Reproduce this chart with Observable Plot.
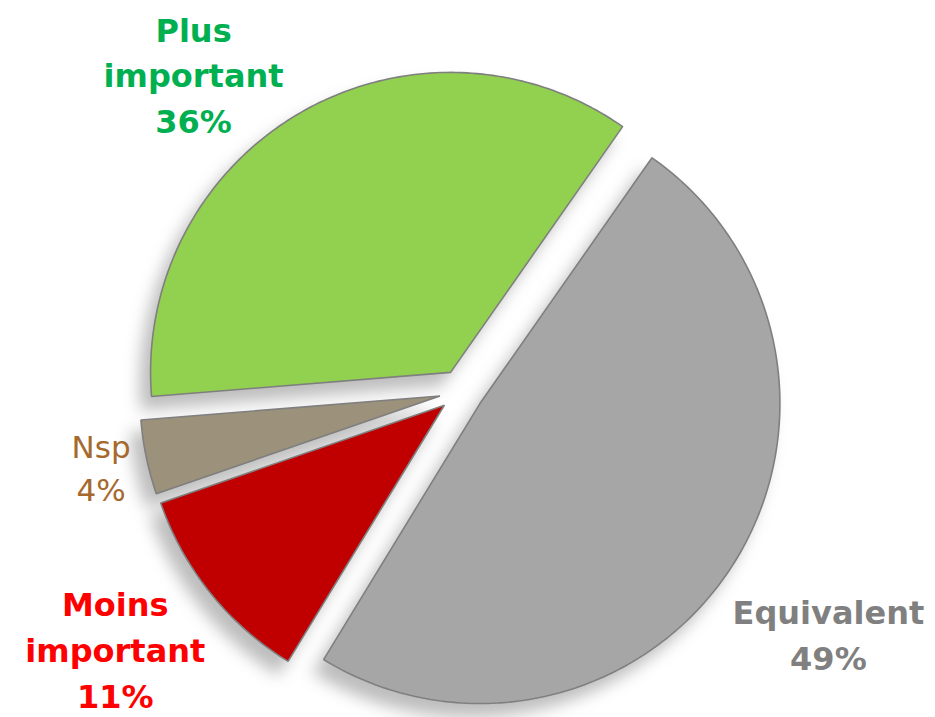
<!DOCTYPE html>
<html>
<head>
<meta charset="utf-8">
<script src="https://cdn.jsdelivr.net/npm/d3@7"></script>
<script src="https://cdn.jsdelivr.net/npm/@observablehq/plot@0.6"></script>
<style>
  html, body { margin: 0; padding: 0; background: #fff; }
  #chart svg { display: block; }
</style>
</head>
<body>
<div id="chart"></div>
<script>
// ---- data ----
const categories = ["Equivalent", "Moins important", "Nsp", "Plus important"];
const values = [49, 11, 4, 36];
const sliceColors = ["#A6A6A6", "#C00000", "#9C917A", "#92D050"];
const textColors = ["#808080", "#FF0000", "#A5692D", "#00B050"];
const boldLabel = [true, true, false, true];

// ---- layout (unit circle = radius 1) ----
const W = 935, H = 717;
const R = 300;                 // pixel radius
const cx = 461, cy = 391;      // pie centre in pixels
const explode = 22 / R;        // explosion distance
const startDeg = 35;
// label placement: radius (in radii) and angular shift relative to bisector
const labelRadius = [1.47, 1.443, 1.23, 1.378];
const labelShift = [0.5, 1.9, -0.6, -10.6];

const rad = Math.PI / 180;
const arcs = d3.pie().sort(null).value(d => d)
  .startAngle(startDeg * rad).endAngle(startDeg * rad + 2 * Math.PI)(values);

const pts = [];
const labels = [];
arcs.forEach((a, i) => {
  const mid = (a.startAngle + a.endAngle) / 2;
  const ox = explode * Math.sin(mid), oy = explode * Math.cos(mid);
  pts.push({key: categories[i], x: ox, y: oy, color: sliceColors[i]});
  const n = Math.max(2, Math.ceil((a.endAngle - a.startAngle) / rad));
  for (let k = 0; k <= n; k++) {
    const t = a.startAngle + (a.endAngle - a.startAngle) * k / n;
    pts.push({key: categories[i], x: ox + Math.sin(t), y: oy + Math.cos(t), color: sliceColors[i]});
  }
  const la = mid + labelShift[i] * rad;
  labels.push({
    text: categories[i].split(" ").join("\n") + "\n" + values[i] + "%",
    x: labelRadius[i] * Math.sin(la),
    y: labelRadius[i] * Math.cos(la),
    color: textColors[i],
    bold: boldLabel[i]
  });
});

const font = "'DejaVu Sans', Verdana, sans-serif";
const chart = Plot.plot({
  width: W,
  height: H,
  margin: 0,
  x: {domain: [-cx / R, (W - cx) / R], axis: null},
  y: {domain: [-(H - cy) / R, cy / R], axis: null},
  color: {type: "identity"},
  style: {fontFamily: font, background: "#fff"},
  marks: [
    Plot.line(pts, {
      x: "x", y: "y", z: "key", fill: "color",
      stroke: "#7F7F7F", strokeWidth: 1.6, curve: "linear-closed",
      strokeLinejoin: "miter"
    }),
    Plot.text(labels.filter(d => d.bold), {
      x: "x", y: "y", text: "text", fill: "color", dy: -4,
      fontSize: 32, fontWeight: "bold", lineHeight: 1.43,
      fontFamily: font, textAnchor: "middle"
    }),
    Plot.text(labels.filter(d => !d.bold), {
      x: "x", y: "y", text: "text", fill: "color", dy: -5,
      fontSize: 31, fontWeight: "normal", lineHeight: 1.4,
      fontFamily: font, textAnchor: "middle"
    })
  ]
});
d3.select(chart).select("g[aria-label=line]")
  .style("filter", "drop-shadow(-10px 13px 8px rgba(0,0,0,0.26))");
document.getElementById("chart").appendChild(chart);
</script>
</body>
</html>
